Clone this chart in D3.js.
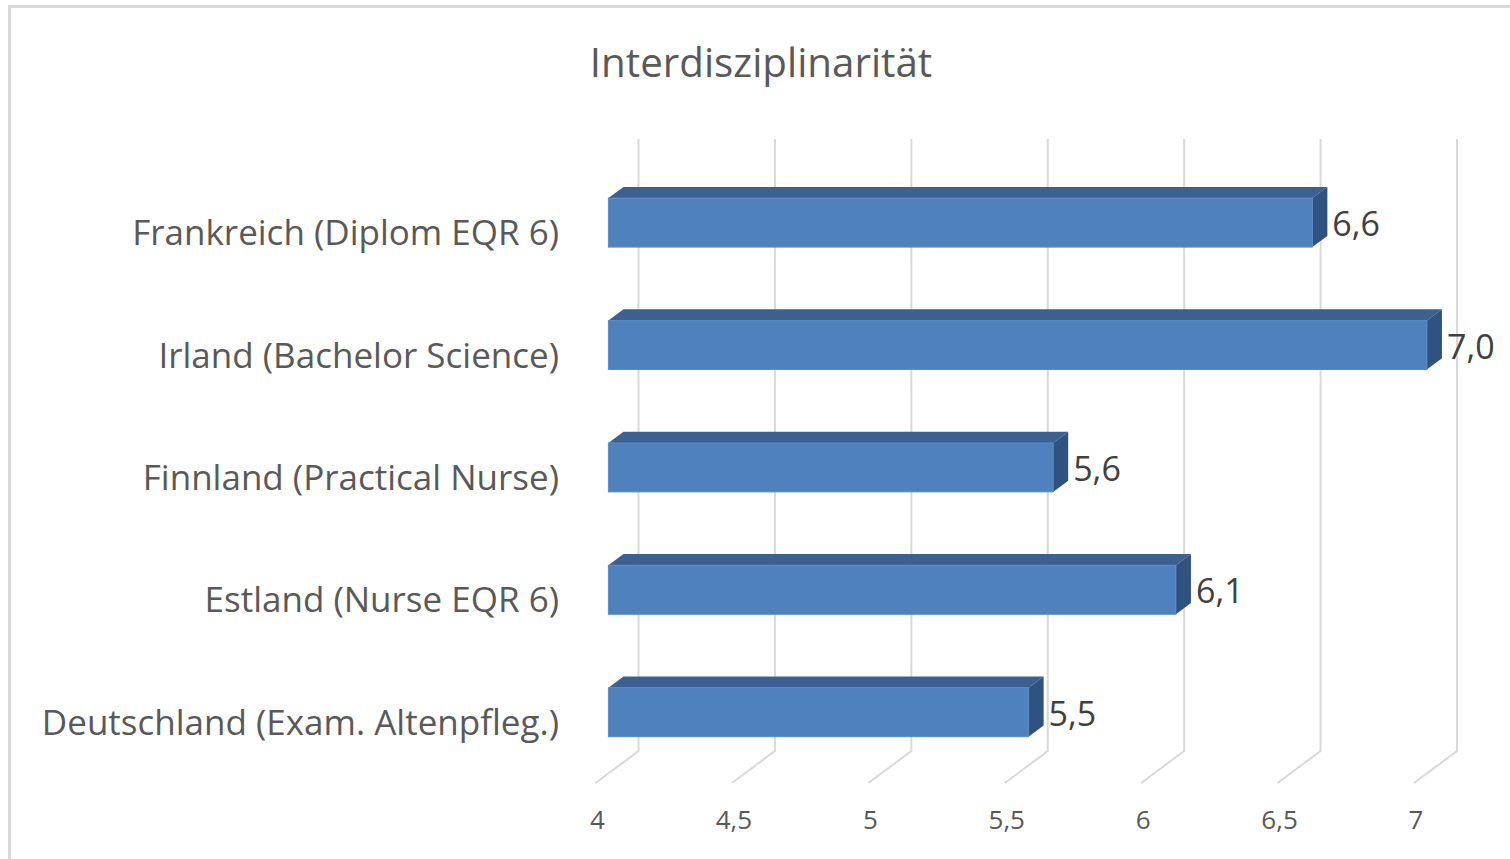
<!DOCTYPE html>
<html>
<head>
<meta charset="utf-8">
<script src="https://cdn.jsdelivr.net/npm/d3@7"></script>
<style>
  html, body { margin: 0; padding: 0; background: #ffffff; }
  svg { display: block; }
</style>
</head>
<body>
<svg id="chart" width="1510" height="859"></svg>
<script>
// ---- data ----
const title = "Interdisziplinarität";
const categories = [
  "Frankreich (Diplom EQR 6)",
  "Irland (Bachelor Science)",
  "Finnland (Practical Nurse)",
  "Estland (Nurse EQR 6)",
  "Deutschland (Exam. Altenpfleg.)"
];
const values = [6.58, 7.0, 5.63, 6.08, 5.54];
const tickValues = [4, 4.5, 5, 5.5, 6, 6.5, 7];
const xDomain = [4, 7];

// ---- layout ----
const W = 1510, H = 859;
const font = "'Open Sans', 'Noto Sans', sans-serif";
const wall = { left: 638.5, right: 1457, top: 139, bottom: 751 };
const depth = { dx: -43, dy: 32 };   // full floor depth (oblique projection)
const barBack = 0.35, barFront = 0.70; // depth fractions of the bars

const loc = d3.formatLocale({ decimal: ",", thousands: ".", grouping: [3], currency: ["", " €"] });
const fmtVal = loc.format(".1f");
const fmtTick = loc.format(".1~f");

const svg = d3.select("#chart");

// chart frame
svg.append("rect")
  .attr("x", 9.5).attr("y", 6.5)
  .attr("width", W + 20).attr("height", H + 20)
  .attr("fill", "#ffffff")
  .attr("stroke", "#d9d9d9").attr("stroke-width", 3);

const x = d3.scaleLinear().domain(xDomain).range([wall.left, wall.right]);
const y = d3.scaleBand().domain(categories).range([wall.top, wall.bottom])
  .paddingInner(0.6).paddingOuter(0.3);

// gridlines on back wall + floor
const grid = svg.append("g").attr("stroke", "#d9d9d9").attr("stroke-width", 2).attr("fill", "none");
tickValues.forEach(t => {
  const gx = x(t);
  grid.append("path")
    .attr("d", `M${gx},${wall.top}L${gx},${wall.bottom}L${gx + depth.dx},${wall.bottom + depth.dy}`);
});

// tick labels
svg.append("g").selectAll("text").data(tickValues).join("text")
  .attr("x", d => x(d) + depth.dx + 2)
  .attr("y", wall.bottom + depth.dy + 46)
  .attr("text-anchor", "middle")
  .attr("font-family", font).attr("font-size", 26)
  .attr("fill", "#595959")
  .text(d => fmtTick(d));

// bars
const colFront = "#4f81bd", colTop = "#3c6191", colSide = "#2f5281";
const bars = svg.append("g");
categories.forEach((c, i) => {
  const v = values[i];
  const fdx = depth.dx * barFront, fdy = depth.dy * barFront;
  const bdx = depth.dx * barBack, bdy = depth.dy * barBack;
  const y0 = y(c), y1 = y(c) + y.bandwidth();
  const xl = x(xDomain[0]), xr = x(v);
  const fL = xl + fdx, fR = xr + fdx, fT = y0 + fdy, fB = y1 + fdy;
  const bL = xl + bdx, bR = xr + bdx, bT = y0 + bdy, bB = y1 + bdy;
  const g = bars.append("g");
  g.append("path").attr("fill", colTop)
    .attr("d", `M${fL},${fT}L${fR},${fT}L${bR},${bT}L${bL},${bT}Z`);
  g.append("path").attr("fill", colSide)
    .attr("d", `M${fR},${fT}L${bR},${bT}L${bR},${bB}L${fR},${fB}Z`);
  g.append("rect").attr("fill", colFront)
    .attr("stroke", "#5b8ac4").attr("stroke-width", 1)
    .attr("x", fL).attr("y", fT).attr("width", fR - fL).attr("height", fB - fT);
  // data label
  svg.append("text")
    .attr("x", bR + 5).attr("y", (fT + fB) / 2 + 13.5)
    .attr("font-family", font).attr("font-size", 34)
    .attr("fill", "#404040")
    .text(fmtVal(v));
});

// category labels
svg.append("g").selectAll("text").data(categories).join("text")
  .attr("x", 559)
  .attr("y", d => y(d) + y.bandwidth() / 2 + depth.dy + 13)
  .attr("text-anchor", "end")
  .attr("font-family", font).attr("font-size", 35)
  .attr("fill", "#595959")
  .text(d => d);

// title
svg.append("text")
  .attr("x", 761).attr("y", 77)
  .attr("text-anchor", "middle")
  .attr("font-family", font).attr("font-size", 40.3)
  .attr("fill", "#595959")
  .text(title);
</script>
</body>
</html>
